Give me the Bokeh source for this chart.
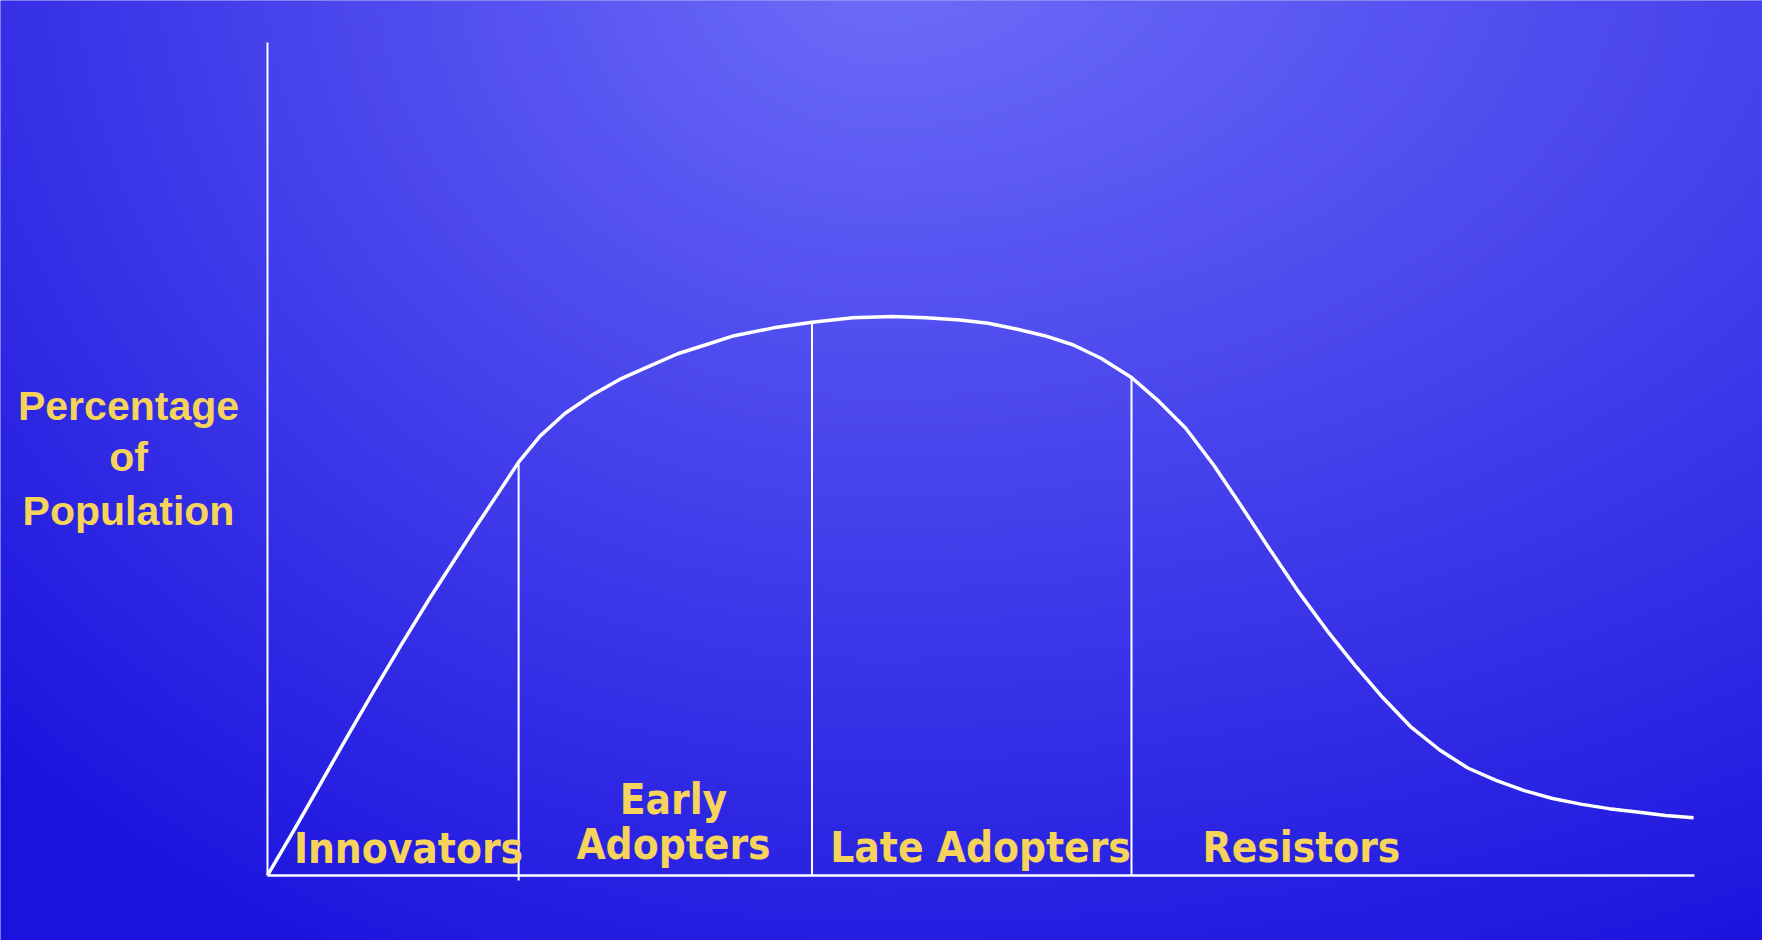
import numpy as np
from bokeh.plotting import figure
from bokeh.models import Range1d
from bokeh.core.properties import value
from bokeh.embed import file_html
from bokeh.resources import INLINE

# ---- data (x: adoption timeline 0-100, y: percentage of population 0-100) ----
curve_x = [0.0, 1.86, 3.44, 5.42, 7.39, 9.37, 11.35, 12.93, 14.51, 16.09, 17.60,
           19.10, 20.84, 22.82, 24.80, 26.77, 28.75, 30.73, 32.71, 35.47, 38.16,
           41.01, 43.78, 46.15, 48.53, 50.50, 52.48, 54.46, 56.44, 58.41, 60.55,
           62.37, 64.35, 66.33, 68.30, 70.28, 72.26, 74.24, 76.21, 78.19, 80.17,
           82.15, 84.12, 86.10, 88.08, 90.06, 92.03, 94.01, 95.99, 97.97, 99.94]
curve_y = [0.0, 5.44, 10.19, 16.15, 21.97, 27.67, 33.22, 37.42, 41.62, 45.69, 49.62,
           52.74, 55.45, 57.75, 59.65, 61.14, 62.63, 63.71, 64.80, 65.74, 66.42,
           66.96, 67.10, 66.96, 66.69, 66.29, 65.61, 64.80, 63.71, 62.09, 59.78,
           57.07, 53.68, 49.21, 44.20, 39.05, 34.04, 29.43, 25.23, 21.30, 17.77,
           15.06, 12.90, 11.41, 10.19, 9.24, 8.56, 8.02, 7.61, 7.20, 6.93]
divider_x = [17.6, 38.16, 60.55]
segment_labels = ["Innovators", "Early", "Adopters", "Late Adopters", "Resistors"]
y_label_lines = ["Percentage", "of", "Population"]
axis_extent = [0, 100]

# ---- layout constants ----
W, H = 1762, 940
X0, X1 = -18.71, 104.77
Y0, Y1 = -7.81, 105.04
label_x = [9.88, 28.45, 28.45, 49.97, 72.46]
label_y = [3.2, 9.1, 3.7, 3.3, 3.3]
ylab_x = [-9.74, -9.74, -9.74]
ylab_y = [56.3, 50.25, 43.7]
YELLOW = "#f6d35a"

p = figure(width=W, height=H, output_backend="svg", toolbar_location=None,
           x_range=Range1d(X0, X1), y_range=Range1d(Y0, Y1),
           x_axis_type=None, y_axis_type=None, min_border=0,
           background_fill_color="#3a36e8", border_fill_color="#3a36e8")
p.outline_line_color = None
p.grid.visible = False

# background radial gradient (decoration)
gw, gh = 587, 313
px = (np.arange(gw) + 0.5) * W / gw
py = (np.arange(gh) + 0.5) * H / gh
PX, PY = np.meshgrid(px, py)
cx, cy = 880, -50
ax = np.where(PX < cx, 1300.0, 1900.0)
t = np.sqrt(((PX - cx) / ax) ** 2 + ((PY - cy) / 1150) ** 2)
t = np.clip(t, 0, 1)
c0 = np.array([110, 110, 249]); c1 = np.array([26, 18, 222])
rgb = c0[None, None, :] + (c1 - c0)[None, None, :] * t[..., None]
rgb = rgb.astype(np.uint32)
img = np.empty((gh, gw), dtype=np.uint32)
view = img.view(dtype=np.uint8).reshape((gh, gw, 4))
view[..., 0] = rgb[..., 0]; view[..., 1] = rgb[..., 1]; view[..., 2] = rgb[..., 2]; view[..., 3] = 255
img = img[::-1]
p.image_rgba(image=[img], x=X0, y=Y0, dw=X1 - X0, dh=Y1 - Y0)

# axes lines
p.line(x=axis_extent, y=[0, 0], line_color="white", line_width=2.5)
p.line(x=[0, 0], y=axis_extent, line_color="white", line_width=2)

# dividers up to the curve
div_top = np.interp(divider_x, curve_x, curve_y)
p.segment(x0=divider_x, y0=[-0.6, 0, 0], x1=divider_x, y1=div_top,
          line_color="white", line_width=2)

# curve
p.line(x=curve_x, y=curve_y, line_color="white", line_width=3.5, line_join="round")

# labels
p.text(x=label_x, y=label_y, text=segment_labels, text_align="center",
       text_baseline="alphabetic", text_color=YELLOW,
       text_font=value("DejaVu Sans Condensed"), text_font_style="bold",
       text_font_size="42px")
p.text(x=ylab_x, y=ylab_y, text=y_label_lines, text_align="center",
       text_baseline="alphabetic", text_color=YELLOW,
       text_font=value("Liberation Sans"), text_font_style="bold",
       text_font_size="41px")

open("out.html", "w").write(file_html(p, INLINE))
